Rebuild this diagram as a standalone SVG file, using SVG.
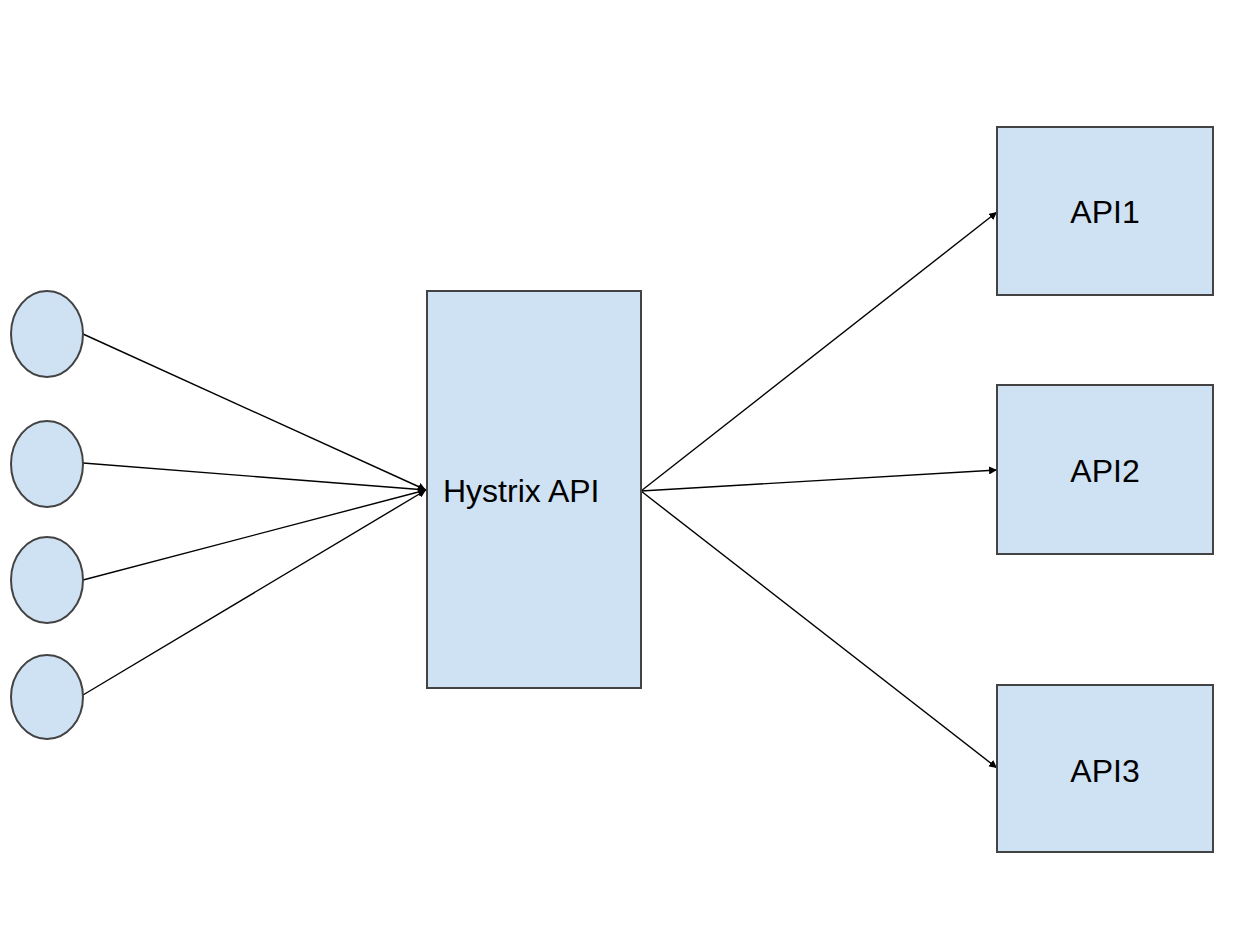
<svg xmlns="http://www.w3.org/2000/svg" width="1240" height="944" viewBox="0 0 1240 944">
<style>
.n{fill:#cfe2f3;stroke:#434343;stroke-width:2}
.t{font-family:"Liberation Sans",Arial,sans-serif;font-size:32px;fill:#000}
.c{stroke:#000;stroke-width:1.4;fill:none;marker-end:url(#ah)}
</style>
<defs>
<marker id="ah" viewBox="0 0 10 10" refX="10" refY="5" markerWidth="8" markerHeight="8" markerUnits="userSpaceOnUse" orient="auto">
<path d="M0,0 L10,5 L0,10 z" fill="#000"/>
</marker>
</defs>
<rect width="1240" height="944" fill="#fff"/>
<g id="connectors">
<line class="c" x1="83" y1="334" x2="426" y2="490"/>
<line class="c" x1="83" y1="463" x2="426" y2="490"/>
<line class="c" x1="83" y1="580" x2="426" y2="490"/>
<line class="c" x1="83" y1="695" x2="426" y2="490"/>
<line class="c" x1="641" y1="491" x2="997" y2="212"/>
<line class="c" x1="641" y1="491" x2="997" y2="470"/>
<line class="c" x1="641" y1="491" x2="997" y2="768"/>
</g>
<g id="client1"><ellipse class="n" cx="47" cy="334" rx="36" ry="43"/></g>
<g id="client2"><ellipse class="n" cx="47" cy="464" rx="36" ry="43"/></g>
<g id="client3"><ellipse class="n" cx="47" cy="580" rx="36" ry="43"/></g>
<g id="client4"><ellipse class="n" cx="47" cy="697" rx="36" ry="42"/></g>
<g id="hystrix"><rect class="n" x="427" y="291" width="214" height="397"/><text class="t" x="443" y="502">Hystrix API</text></g>
<g id="api1"><rect class="n" x="997" y="127" width="216" height="168"/><text class="t" x="1105" y="223" text-anchor="middle">API1</text></g>
<g id="api2"><rect class="n" x="997" y="385" width="216" height="169"/><text class="t" x="1105" y="482" text-anchor="middle">API2</text></g>
<g id="api3"><rect class="n" x="997" y="685" width="216" height="167"/><text class="t" x="1105" y="782" text-anchor="middle">API3</text></g>
</svg>
